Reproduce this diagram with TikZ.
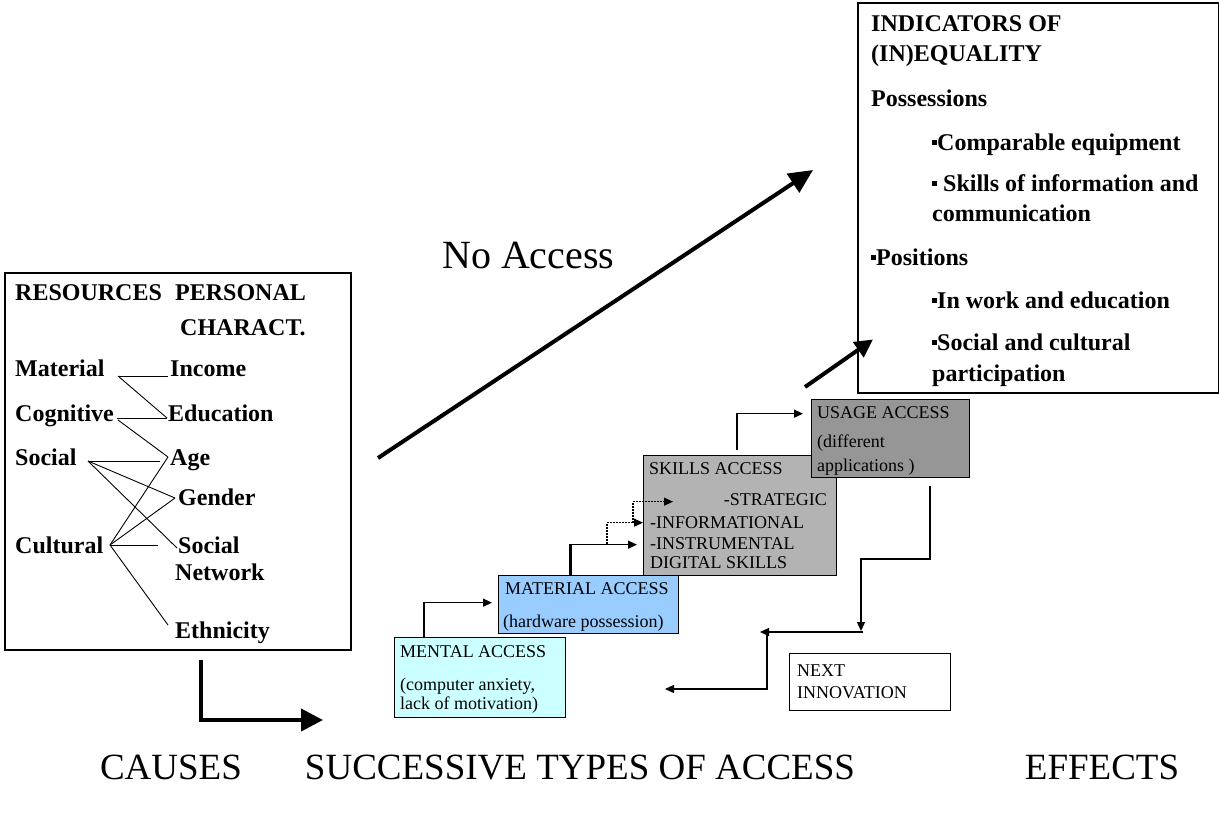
\documentclass[tikz,border=0pt]{standalone}
\usepackage{fontspec}
\setmainfont{Liberation Serif}
\usetikzlibrary{arrows.meta}
\newcommand{\sqb}{\raisebox{5pt}{\rule{5pt}{5pt}}}
\begin{document}
\begin{tikzpicture}[x=1pt,y=-1pt,
  lbl/.style={font=\fontsize{24}{26}\selectfont\bfseries, inner sep=0, anchor=base west},
  acc/.style={font=\fontsize{18}{20}\selectfont, inner sep=0, anchor=base west},
  big/.style={font=\fontsize{37}{40}\selectfont, inner sep=0, anchor=base},
  conn/.style={line width=0.9pt},
  boxx/.style={draw, line width=1.3pt, anchor=north west, inner sep=0},
  ar/.style={line width=1.3pt, -{Triangle[length=9pt,width=8pt]}},
  dotar/.style={line width=1.1pt, dash pattern=on 1.5pt off 1.5pt, -{Triangle[length=9pt,width=8pt]}},
  fat/.style={line width=4pt, -{Triangle[length=24pt,width=22pt]}},
]
\useasboundingbox[fill=white] (0,0) rectangle (1219,815);

% ---------- left box ----------
\node[boxx, line width=1.5pt, minimum width=346pt, minimum height=377pt] (res) at (4,272) {};
\node[lbl] (resources) at (15,300) {RESOURCES};
\node[lbl] (personal) at (175,300) {PERSONAL};
\node[lbl] (charact) at (180,335) {CHARACT.};
\node[lbl] (material) at (15,376) {Material};
\node[lbl] (cognitive) at (15,421) {Cognitive};
\node[lbl] (social) at (15,465) {Social};
\node[lbl] (cultural) at (15,553) {Cultural};
\node[lbl] (income) at (170,376) {Income};
\node[lbl] (education) at (168,421) {Education};
\node[lbl] (age) at (170,465) {Age};
\node[lbl] (gender) at (178,505) {Gender};
\node[lbl] (socnet) at (178,553) {Social};
\node[lbl] (network) at (175,580) {Network};
\node[lbl] (ethnicity) at (175,638) {Ethnicity};

\coordinate (matR) at (118,376);
\coordinate (cogR) at (117,418);
\coordinate (cogR2) at (118,420);
\coordinate (socR) at (88,461);
\coordinate (culR) at (110,545);
\coordinate (incL) at (168,376);
\coordinate (eduL) at (167,418);
\coordinate (ageL) at (168,457);
\coordinate (ageL2) at (160,461);
\coordinate (genL) at (175,498);
\coordinate (snL) at (177,548);
\coordinate (snL2) at (158,545);
\coordinate (ethL) at (168,625);

\draw[conn] (matR) -- (incL);
\draw[conn] (matR) -- (eduL);
\draw[conn] (cogR) -- (eduL);
\draw[conn] (cogR2) -- (ageL);
\draw[conn] (socR) -- (ageL2);
\draw[conn] (socR) -- (genL);
\draw[conn] (socR) -- (snL);
\draw[conn] (culR) -- (ageL);
\draw[conn] (culR) -- (genL);
\draw[conn] (culR) -- (snL2);
\draw[conn] (culR) -- (ethL);

% ---------- right box ----------
\node[boxx, line width=1.5pt, minimum width=361pt, minimum height=390pt] (ind) at (857,2) {};
\node[lbl] (ind1) at (871,31) {INDICATORS OF};
\node[lbl] (ind2) at (871,61) {(IN)EQUALITY};
\node[lbl] (ind3) at (871,106) {Possessions};
\node[lbl] (ind4) at (932,150) {\sqb Comparable equipment};
\node[lbl] (ind5) at (932,191) {\sqb\ Skills of information and};
\node[lbl] (ind6) at (932,221) {communication};
\node[lbl] (ind7) at (871,265) {\sqb Positions};
\node[lbl] (ind8) at (932,308) {\sqb In work and education};
\node[lbl] (ind9) at (932,350) {\sqb Social and cultural};
\node[lbl] (ind10) at (932,381) {participation};

% ---------- access boxes ----------
\node[boxx, fill={rgb,255:red,204;green,255;blue,255}, minimum width=171pt, minimum height=80pt] (mental) at (394,637) {};
\node[acc] (ment1) at (400,657) {MENTAL ACCESS};
\node[acc] (ment2) at (400,690) {(computer anxiety,};
\node[acc] (ment3) at (400,709) {lack of motivation)};

\node[boxx, fill={rgb,255:red,153;green,204;blue,255}, minimum width=180pt, minimum height=58pt] (matacc) at (498,575) {};
\node[acc] (mat1) at (505,594) {MATERIAL ACCESS};
\node[acc] (mat2) at (503,627) {(hardware possession)};

\node[boxx, fill={rgb,255:red,179;green,179;blue,179}, minimum width=193pt, minimum height=120pt] (skills) at (643,455) {};
\node[acc] (sk1) at (649,474) {SKILLS ACCESS};
\node[acc, anchor=base east] (sk2) at (827,505) {-STRATEGIC};
\node[acc] (sk3) at (650,528) {-INFORMATIONAL};
\node[acc] (sk4) at (650,549) {-INSTRUMENTAL};
\node[acc] (sk5) at (650,568) {DIGITAL SKILLS};

\node[boxx, fill={rgb,255:red,150;green,150;blue,150}, minimum width=158pt, minimum height=78pt] (usage) at (811,399) {};
\node[acc] (us1) at (817,418) {USAGE ACCESS};
\node[acc] (us2) at (817,447) {(different};
\node[acc] (us3) at (817,471) {applications )};

\node[boxx, fill=white, minimum width=161pt, minimum height=57pt] (next) at (789,653) {};
\node[acc] (nx1) at (797,676) {NEXT};
\node[acc] (nx2) at (797,698) {INNOVATION};

% ---------- arrows between access boxes ----------
\draw[ar] ([xshift=30pt]mental.north west) |- ([xshift=-6pt,yshift=2pt]matacc.west);
\draw[line width=3pt] ([xshift=72pt]matacc.north west) -- ++(0,-31);
\draw[ar] ([xshift=72pt]matacc.north west) |- ([xshift=-6pt,yshift=-29pt]skills.west);
\draw[dotar] ([xshift=-36pt,yshift=-28pt]skills.west) |- ([yshift=-7pt]skills.west);
\draw[dotar] ([xshift=-10pt,yshift=-7pt]skills.west) |- ([xshift=30pt,yshift=14pt]skills.west);
\draw[ar] ([xshift=94pt,yshift=5pt]skills.north west) |- ([xshift=-8pt,yshift=25pt]usage.west);

\coordinate (u1) at (930,486);
\coordinate (u2) at (861,631);
\coordinate (u3) at (863,632);
\coordinate (u4) at (760,632);
\coordinate (u5) at (767,632);
\coordinate (u6) at (665,689);
\draw[ar] (u1) -- ++(0,73) -| (u2);
\draw[ar] (u3) -- (u4);
\draw[ar] (u5) |- (u6);

% ---------- big arrows ----------
\coordinate (na1) at (378,458);
\coordinate (na2) at (813,170);
\draw[fat] (na1) -- (na2);
\node[inner sep=0, anchor=base west, font=\fontsize{40}{42}\selectfont] (noacc) at (442,268) {No Access};

\draw[line width=4pt, -{Triangle[length=18pt,width=18pt]}] ([xshift=-6pt,yshift=12pt]usage.north west) -- ([xshift=16pt,yshift=54pt]ind.south west);

\coordinate (cz) at (323,720);
\draw[fat, -{Triangle[length=22pt,width=22pt]}] ([xshift=197pt,yshift=-9pt]res.south west) |- (cz);

% ---------- bottom labels ----------
\node[big] (causes) at (171,779) {CAUSES};
\node[big] (succ) at (580,779) {SUCCESSIVE TYPES OF ACCESS};
\node[big] (effects) at (1102,779) {EFFECTS};
\end{tikzpicture}
\end{document}
